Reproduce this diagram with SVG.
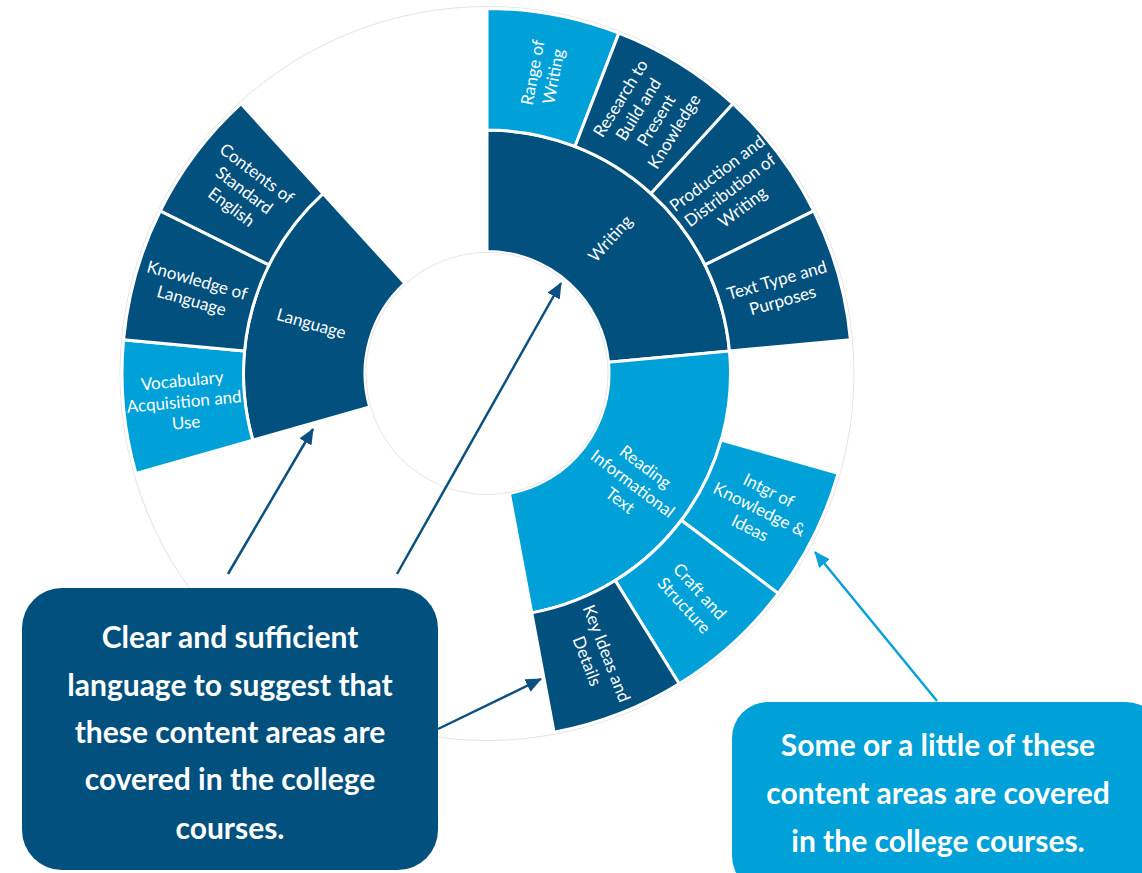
<svg xmlns="http://www.w3.org/2000/svg" width="1142" height="873" viewBox="0 0 1142 873">
<style>
.dark{fill:#02507E;stroke:#fff;stroke-width:3;stroke-linejoin:miter}
.light{fill:#00A0D8;stroke:#fff;stroke-width:3;stroke-linejoin:miter}
.lbl{font-family:Lato,"Open Sans","Liberation Sans",sans-serif;font-size:17px;fill:#fff;text-anchor:middle}
.box{font-family:Lato,"Open Sans","Liberation Sans",sans-serif;font-weight:bold;font-size:30px;fill:#fff;text-anchor:middle}
.arrD{stroke:#0B5080;stroke-width:2.5;fill:none}
.arrL{stroke:#0AA0D8;stroke-width:2.5;fill:none}
</style>
<defs>
<marker id="mD" markerUnits="userSpaceOnUse" markerWidth="16" markerHeight="14" refX="15" refY="7" orient="auto"><path d="M0,0 L16,7 L0,14 Z" fill="#0B5080"/></marker>
<marker id="mL" markerUnits="userSpaceOnUse" markerWidth="16" markerHeight="14" refX="15" refY="7" orient="auto"><path d="M0,0 L16,7 L0,14 Z" fill="#0AA0D8"/></marker>
</defs>
<rect width="1142" height="873" fill="#fff"/>
<g id="chart" transform="translate(487,373.5)">
<circle id="outer-disc" r="367" fill="#fff" stroke="#e3e3e3" stroke-width="1"/>
<g id="writing"><path class="dark" d="M0,-122 L0,-243.5 A243.5,243.5 0 0 1 242.46,-22.47 L121.48,-11.26 A122,122 0 0 0 0,-122 Z"/>
<text class="lbl" transform="translate(123.12,-135.05) rotate(-47.65)" dy="6">Writing</text></g>
<g id="reading"><path class="light" d="M121.48,-11.26 L242.46,-22.47 A243.5,243.5 0 0 1 44.74,239.35 L22.42,119.92 A122,122 0 0 0 121.48,-11.26 Z"/>
<text class="lbl" transform="translate(145.84,110.13) rotate(37.06)"><tspan x="0" y="-15">Reading</tspan><tspan x="0" y="6">Informational</tspan><tspan x="0" y="27">Text</tspan></text></g>
<g id="language"><path class="dark" d="M-117.34,33.39 L-234.21,66.64 A243.5,243.5 0 0 1 -164.05,-179.95 L-82.19,-90.16 A122,122 0 0 0 -117.34,33.39 Z"/>
<text class="lbl" transform="translate(-175.77,-50.01) rotate(15.88)" dy="6">Language</text></g>
<g id="range-of-writing"><path class="light" d="M0,-243.5 L0,-365 A365,365 0 0 1 131.85,-340.35 L87.96,-227.06 A243.5,243.5 0 0 0 0,-243.5 Z"/>
<text class="lbl" transform="translate(55.91,-299.07) rotate(-79.41)"><tspan x="0" y="-4.5">Range of</tspan><tspan x="0" y="16.5">Writing</tspan></text></g>
<g id="research"><path class="dark" d="M87.96,-227.06 L131.85,-340.35 A365,365 0 0 1 245.90,-269.74 L164.05,-179.95 A243.5,243.5 0 0 0 87.96,-227.06 Z"/>
<text class="lbl" transform="translate(160.17,-258.68) rotate(-58.24)"><tspan x="0" y="-25.5">Research to</tspan><tspan x="0" y="-4.5">Build and</tspan><tspan x="0" y="16.5">Present</tspan><tspan x="0" y="37.5">Knowledge</tspan></text></g>
<g id="production"><path class="dark" d="M164.05,-179.95 L245.90,-269.74 A365,365 0 0 1 326.73,-162.69 L217.97,-108.54 A243.5,243.5 0 0 0 164.05,-179.95 Z"/>
<text class="lbl" transform="translate(242.80,-183.35) rotate(-37.06)"><tspan x="0" y="-15">Production and</tspan><tspan x="0" y="6">Distribution of</tspan><tspan x="0" y="27">Writing</tspan></text></g>
<g id="text-type"><path class="dark" d="M217.97,-108.54 L326.73,-162.69 A365,365 0 0 1 363.44,-33.68 L242.46,-22.47 A243.5,243.5 0 0 0 217.97,-108.54 Z"/>
<text class="lbl" transform="translate(292.64,-83.26) rotate(-15.88)"><tspan x="0" y="-4.5">Text Type and</tspan><tspan x="0" y="16.5">Purposes</tspan></text></g>
<g id="intgr"><path class="light" d="M234.21,66.64 L351.07,99.89 A365,365 0 0 1 291.28,219.96 L194.32,146.74 A243.5,243.5 0 0 0 234.21,66.64 Z"/>
<text class="lbl" transform="translate(272.35,135.61) rotate(26.47)"><tspan x="0" y="-15">Intgr of</tspan><tspan x="0" y="6">Knowledge &amp;</tspan><tspan x="0" y="27">Ideas</tspan></text></g>
<g id="craft"><path class="light" d="M194.32,146.74 L291.28,219.96 A365,365 0 0 1 192.15,310.33 L128.19,207.03 A243.5,243.5 0 0 0 194.32,146.74 Z"/>
<text class="lbl" transform="translate(204.97,224.85) rotate(47.65)"><tspan x="0" y="-4.5">Craft and</tspan><tspan x="0" y="16.5">Structure</tspan></text></g>
<g id="key-ideas"><path class="dark" d="M128.19,207.03 L192.15,310.33 A365,365 0 0 1 67.07,358.78 L44.74,239.35 A243.5,243.5 0 0 0 128.19,207.03 Z"/>
<text class="lbl" transform="translate(109.91,283.70) rotate(68.82)"><tspan x="0" y="-4.5">Key Ideas and</tspan><tspan x="0" y="16.5">Details</tspan></text></g>
<g id="vocabulary"><path class="light" d="M-234.21,66.64 L-351.07,99.89 A365,365 0 0 1 -363.44,-33.68 L-242.46,-22.47 A243.5,243.5 0 0 0 -234.21,66.64 Z"/>
<text class="lbl" transform="translate(-302.95,28.07) rotate(-5.29)"><tspan x="0" y="-15">Vocabulary</tspan><tspan x="0" y="6">Acquisition and</tspan><tspan x="0" y="27">Use</tspan></text></g>
<g id="knowledge-of-language"><path class="dark" d="M-242.46,-22.47 L-363.44,-33.68 A365,365 0 0 1 -326.73,-162.69 L-217.97,-108.54 A243.5,243.5 0 0 0 -242.46,-22.47 Z"/>
<text class="lbl" transform="translate(-292.64,-83.26) rotate(15.88)"><tspan x="0" y="-4.5">Knowledge of</tspan><tspan x="0" y="16.5">Language</tspan></text></g>
<g id="contents"><path class="dark" d="M-217.97,-108.54 L-326.73,-162.69 A365,365 0 0 1 -245.90,-269.74 L-164.05,-179.95 A243.5,243.5 0 0 0 -217.97,-108.54 Z"/>
<text class="lbl" transform="translate(-242.80,-183.35) rotate(37.06)"><tspan x="0" y="-15">Contents of</tspan><tspan x="0" y="6">Standard</tspan><tspan x="0" y="27">English</tspan></text></g>
<circle id="hole" r="121" fill="#fff" stroke="#e6e6e6" stroke-width="1"/>
</g>
<g id="connectors">
<line class="arrD" x1="228" y1="574" x2="313" y2="429" marker-end="url(#mD)"/>
<line class="arrD" x1="397" y1="574" x2="561" y2="283" marker-end="url(#mD)"/>
<line class="arrD" x1="438" y1="729" x2="541" y2="679" marker-end="url(#mD)"/>
<line class="arrL" x1="937" y1="701" x2="815" y2="552" marker-end="url(#mL)"/>
</g>
<g id="box-clear">
<rect x="22" y="588" width="416" height="282" rx="40" ry="40" fill="#02507E"/>
<text class="box"><tspan x="230" y="648">Clear and sufficient</tspan><tspan x="230" y="696">language to suggest that</tspan><tspan x="230" y="743">these content areas are</tspan><tspan x="230" y="790">covered in the college</tspan><tspan x="230" y="839">courses.</tspan></text>
</g>
<g id="box-some">
<rect x="732" y="702" width="430" height="190" rx="36" ry="36" fill="#00A0D8"/>
<text class="box"><tspan x="938" y="756">Some or a little of these</tspan><tspan x="938" y="804">content areas are covered</tspan><tspan x="938" y="852">in the college courses.</tspan></text>
</g>
</svg>
